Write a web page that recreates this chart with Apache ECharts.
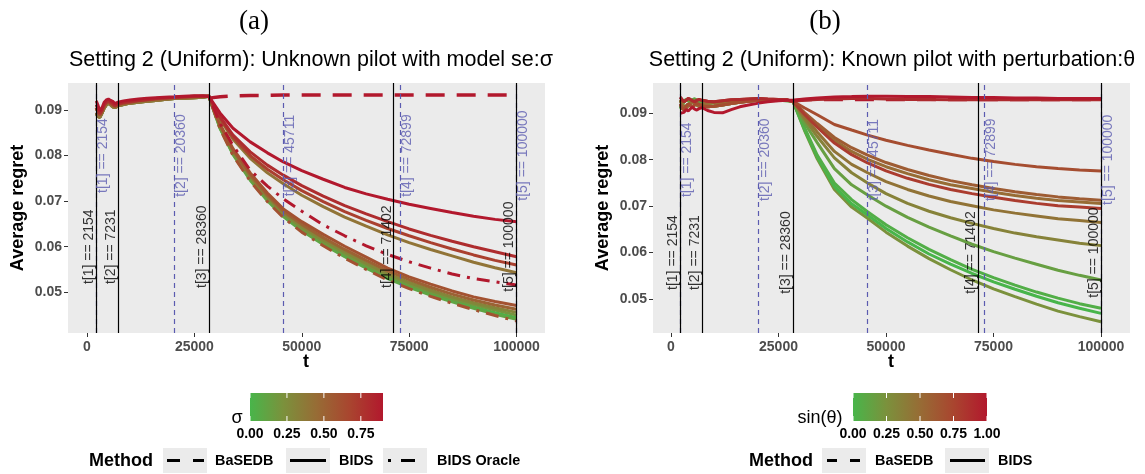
<!DOCTYPE html>
<html>
<head>
<meta charset="utf-8">
<script src="https://cdn.jsdelivr.net/npm/echarts@6/dist/echarts.min.js"></script>
<style>
html, body { margin: 0; padding: 0; background: #fff; }
#chart { width: 1145px; height: 474px; }
</style>
</head>
<body>
<div id="chart"></div>
<script>
// time grid: the noisy warm-up part and the decay part after t[3]
var tEarly = [2154, 2500, 3000, 3500, 4000, 4500, 5000, 5500, 6000, 6500, 7231, 8500, 10000, 12000, 14000, 16000, 18000, 20360, 22500, 25000, 27000, 28360];
var tLate = [28360, 31000, 34000, 38000, 42000, 45711, 50000, 55000, 60000, 65000, 70000, 75000, 80000, 85000, 90000, 95000, 100000];

// panel (a): warm-up traces
var earlyA1 = [0.0912, 0.0905, 0.0893, 0.0900, 0.0912, 0.0918, 0.0921, 0.0917, 0.0915, 0.0910, 0.0914, 0.0917, 0.0919, 0.0921, 0.0923, 0.0925, 0.0927, 0.0928, 0.0929, 0.0930, 0.0930, 0.0931];
var earlyA2 = [0.0893, 0.0886, 0.0884, 0.0893, 0.0904, 0.0911, 0.0915, 0.0911, 0.0907, 0.0905, 0.0909, 0.0912, 0.0915, 0.0917, 0.0919, 0.0921, 0.0923, 0.0925, 0.0926, 0.0927, 0.0928, 0.0930];
var earlyA3 = [0.0905, 0.0896, 0.0889, 0.0897, 0.0909, 0.0915, 0.0919, 0.0914, 0.0911, 0.0908, 0.0912, 0.0915, 0.0917, 0.0920, 0.0922, 0.0924, 0.0925, 0.0927, 0.0928, 0.0929, 0.0930, 0.0930];
var earlyA4 = [0.0920, 0.0912, 0.0898, 0.0905, 0.0917, 0.0922, 0.0924, 0.0921, 0.0919, 0.0914, 0.0917, 0.0920, 0.0922, 0.0924, 0.0926, 0.0927, 0.0928, 0.0929, 0.0930, 0.0931, 0.0931, 0.0932];

// panel (a): BIDS by sigma
var lateS90 = [0.0930, 0.0893, 0.0860, 0.0830, 0.0806, 0.0786, 0.0767, 0.0748, 0.0730, 0.0716, 0.0704, 0.0693, 0.0684, 0.0675, 0.0667, 0.0660, 0.0655];
var lateS80 = [0.0930, 0.0885, 0.0845, 0.0808, 0.0779, 0.0757, 0.0734, 0.0711, 0.0690, 0.0672, 0.0655, 0.0639, 0.0625, 0.0612, 0.0600, 0.0589, 0.0578];
var lateS70 = [0.0930, 0.0882, 0.0840, 0.0800, 0.0770, 0.0747, 0.0723, 0.0699, 0.0677, 0.0658, 0.0640, 0.0624, 0.0609, 0.0595, 0.0582, 0.0570, 0.0560];
var lateS40 = [0.0930, 0.0880, 0.0836, 0.0794, 0.0762, 0.0738, 0.0713, 0.0688, 0.0665, 0.0645, 0.0626, 0.0609, 0.0594, 0.0580, 0.0566, 0.0554, 0.0543];
var lateS60 = [0.0930, 0.0868, 0.0815, 0.0762, 0.0718, 0.0683, 0.0655, 0.0627, 0.0601, 0.0577, 0.0553, 0.0534, 0.0518, 0.0503, 0.0490, 0.0480, 0.0471];
var lateS50 = [0.0930, 0.0866, 0.0812, 0.0758, 0.0713, 0.0678, 0.0649, 0.0620, 0.0594, 0.0570, 0.0547, 0.0528, 0.0511, 0.0496, 0.0483, 0.0472, 0.0463];
var lateS30 = [0.0930, 0.0864, 0.0809, 0.0754, 0.0709, 0.0674, 0.0644, 0.0615, 0.0589, 0.0564, 0.0541, 0.0522, 0.0505, 0.0490, 0.0477, 0.0466, 0.0456];
var lateS20 = [0.0930, 0.0862, 0.0806, 0.0751, 0.0706, 0.0671, 0.0641, 0.0611, 0.0585, 0.0560, 0.0537, 0.0518, 0.0501, 0.0486, 0.0473, 0.0461, 0.0450];
var lateS10 = [0.0930, 0.0859, 0.0802, 0.0746, 0.0701, 0.0666, 0.0635, 0.0605, 0.0578, 0.0553, 0.0530, 0.0511, 0.0494, 0.0479, 0.0465, 0.0452, 0.0441];
var lateS00 = [0.0930, 0.0860, 0.0804, 0.0748, 0.0703, 0.0668, 0.0637, 0.0607, 0.0581, 0.0556, 0.0533, 0.0514, 0.0497, 0.0482, 0.0468, 0.0455, 0.0444];
// panel (a): BIDS Oracle and BaSEDB
var oracleS90 = [0.0930, 0.0870, 0.0822, 0.0768, 0.0733, 0.0705, 0.0678, 0.0648, 0.0624, 0.0602, 0.0583, 0.0567, 0.0553, 0.0540, 0.0530, 0.0523, 0.0516];
var oracleS60 = [0.0930, 0.0858, 0.0800, 0.0744, 0.0699, 0.0664, 0.0632, 0.0602, 0.0575, 0.0550, 0.0527, 0.0508, 0.0491, 0.0476, 0.0462, 0.0449, 0.0437];
var basedbA = [0.0926, 0.0929, 0.0931, 0.0932, 0.0932, 0.0933, 0.0933, 0.0933, 0.0933, 0.0933, 0.0933, 0.0933, 0.0933, 0.0933, 0.0933, 0.0933, 0.0933];

// panel (b): warm-up traces
var earlyB1 = [0.0935, 0.0930, 0.0925, 0.0928, 0.0932, 0.0930, 0.0927, 0.0925, 0.0928, 0.0930, 0.0928, 0.0926, 0.0925, 0.0927, 0.0929, 0.0930, 0.0931, 0.0932, 0.0931, 0.0930, 0.0929, 0.0928];
var earlyB2 = [0.0900, 0.0897, 0.0902, 0.0908, 0.0905, 0.0910, 0.0913, 0.0909, 0.0907, 0.0910, 0.0912, 0.0906, 0.0902, 0.0901, 0.0908, 0.0914, 0.0918, 0.0922, 0.0925, 0.0927, 0.0928, 0.0929];
var earlyB3 = [0.0920, 0.0912, 0.0908, 0.0915, 0.0920, 0.0917, 0.0914, 0.0918, 0.0921, 0.0919, 0.0916, 0.0914, 0.0915, 0.0918, 0.0921, 0.0924, 0.0926, 0.0928, 0.0928, 0.0929, 0.0928, 0.0927];
var earlyB4 = [0.0928, 0.0920, 0.0915, 0.0911, 0.0917, 0.0922, 0.0925, 0.0922, 0.0918, 0.0915, 0.0919, 0.0921, 0.0923, 0.0924, 0.0926, 0.0927, 0.0929, 0.0930, 0.0930, 0.0929, 0.0928, 0.0926];
var earlyB5 = [0.0910, 0.0918, 0.0924, 0.0930, 0.0927, 0.0925, 0.0929, 0.0931, 0.0928, 0.0926, 0.0924, 0.0922, 0.0923, 0.0925, 0.0927, 0.0929, 0.0930, 0.0931, 0.0929, 0.0928, 0.0927, 0.0926];

// panel (b): BIDS by sin(theta)
var lateT100 = [0.0928, 0.0931, 0.0933, 0.0935, 0.0936, 0.0937, 0.0937, 0.0936, 0.0936, 0.0935, 0.0934, 0.0934, 0.0933, 0.0933, 0.0932, 0.0932, 0.0932];
var lateT90 = [0.0926, 0.0928, 0.0930, 0.0931, 0.0932, 0.0932, 0.0931, 0.0930, 0.0930, 0.0929, 0.0929, 0.0929, 0.0929, 0.0929, 0.0929, 0.0929, 0.0929];
var lateT80 = [0.0926, 0.0898, 0.0870, 0.0836, 0.0811, 0.0793, 0.0776, 0.0760, 0.0747, 0.0736, 0.0727, 0.0719, 0.0712, 0.0706, 0.0701, 0.0698, 0.0695];
var lateT70 = [0.0926, 0.0912, 0.0897, 0.0876, 0.0864, 0.0853, 0.0842, 0.0831, 0.0821, 0.0812, 0.0803, 0.0796, 0.0790, 0.0785, 0.0781, 0.0778, 0.0776];
var lateT60 = [0.0926, 0.0902, 0.0878, 0.0848, 0.0826, 0.0810, 0.0794, 0.0779, 0.0766, 0.0755, 0.0746, 0.0738, 0.0731, 0.0725, 0.0720, 0.0716, 0.0713];
var lateT50 = [0.0926, 0.0900, 0.0874, 0.0842, 0.0818, 0.0801, 0.0785, 0.0770, 0.0757, 0.0746, 0.0738, 0.0730, 0.0723, 0.0717, 0.0712, 0.0709, 0.0706];
var lateT45 = [0.0926, 0.0893, 0.0860, 0.0818, 0.0790, 0.0772, 0.0753, 0.0736, 0.0722, 0.0710, 0.0701, 0.0692, 0.0685, 0.0679, 0.0673, 0.0669, 0.0665];
var lateT35 = [0.0926, 0.0888, 0.0850, 0.0804, 0.0772, 0.0750, 0.0727, 0.0706, 0.0689, 0.0675, 0.0663, 0.0652, 0.0642, 0.0634, 0.0627, 0.0620, 0.0615];
var lateT25 = [0.0926, 0.0864, 0.0802, 0.0736, 0.0698, 0.0674, 0.0644, 0.0614, 0.0587, 0.0563, 0.0541, 0.0522, 0.0505, 0.0489, 0.0474, 0.0462, 0.0451];
var lateT15 = [0.0926, 0.0880, 0.0837, 0.0781, 0.0746, 0.0724, 0.0700, 0.0676, 0.0655, 0.0636, 0.0618, 0.0602, 0.0588, 0.0575, 0.0562, 0.0551, 0.0541];
var lateT05 = [0.0926, 0.0870, 0.0810, 0.0750, 0.0714, 0.0688, 0.0660, 0.0632, 0.0607, 0.0585, 0.0564, 0.0546, 0.0530, 0.0515, 0.0502, 0.0490, 0.0480];
var lateT00 = [0.0926, 0.0866, 0.0806, 0.0742, 0.0705, 0.0681, 0.0652, 0.0623, 0.0597, 0.0575, 0.0555, 0.0537, 0.0521, 0.0506, 0.0492, 0.0480, 0.0469];
var basedbB = [0.0927, 0.0929, 0.0930, 0.0930, 0.0930, 0.0930, 0.0930, 0.0930, 0.0930, 0.0930, 0.0930, 0.0930, 0.0930, 0.0930, 0.0930, 0.0930, 0.0930];

// reference lines (same in both panels)
var cutsBlack = [2154, 7231, 28360, 71402, 100000];
var cutsBlackText = ['t[1] == 2154', 't[2] == 7231', 't[3] == 28360', 't[4] == 71402', 't[5] == 100000'];
var cutsBlue = [2154, 20360, 45711, 72899, 100000];
var cutsBlueText = ['t[1] == 2154', 't[2] == 20360', 't[3] == 45711', 't[4] == 72899', 't[5] == 100000'];
var blackTextY = 0.06;
var blueTextY = 0.08;

// ticks
var xTicks = [0, 25000, 50000, 75000, 100000];
var yTicks = [0.05, 0.06, 0.07, 0.08, 0.09];
var sigmaTicks = [0, 0.25, 0.5, 0.75];
var sinTicks = [0, 0.25, 0.5, 0.75, 1];

var gradStops = ['#48b54a', '#7b913c', '#976c35', '#a9452f', '#b2182d'];

function hexRgb(h) {
    return [parseInt(h.slice(1, 3), 16), parseInt(h.slice(3, 5), 16), parseInt(h.slice(5, 7), 16)];
}
function gradColor(v) {
    v = Math.max(0, Math.min(1, v));
    var p = v * (gradStops.length - 1);
    var i = Math.min(gradStops.length - 2, Math.floor(p));
    var f = p - i;
    var a = hexRgb(gradStops[i]), b = hexRgb(gradStops[i + 1]);
    return 'rgb(' + [0, 1, 2].map(function (k) { return Math.round(a[k] + (b[k] - a[k]) * f); }).join(',') + ')';
}

function joinData(early, late) {
    var d = [];
    if (early) {
        for (var i = 0; i < tEarly.length - 1; i++) d.push([tEarly[i], early[i]]);
    }
    for (var j = 0; j < tLate.length; j++) d.push([tLate[j], late[j]]);
    return d;
}

function curve(gi, level, maxLevel, early, late, method) {
    var ls = { color: gradColor(level / maxLevel), width: 3, type: 'solid', cap: 'butt' };
    if (method === 'oracle') ls.type = [3, 7, 13, 7];
    if (method === 'basedb') { ls.type = [19, 12]; ls.width = 3.5; }
    return {
        type: 'line', xAxisIndex: gi, yAxisIndex: gi,
        data: joinData(method === 'bids' ? early : null, late),
        showSymbol: false, symbol: 'none', silent: true, animation: false,
        lineStyle: ls, z: 2
    };
}

function cutSeries(gi, cuts, texts, yPos, color, lineType, vAlign) {
    return {
        type: 'scatter', xAxisIndex: gi, yAxisIndex: gi, symbol: 'circle', symbolSize: 1, silent: true, animation: false, z: 5,
        data: cuts.map(function (t, i) { return [t, yPos, texts[i]]; }),
        itemStyle: { color: 'rgba(0,0,0,0)' },
        label: {
            show: true, position: 'inside', rotate: 90, align: 'center', verticalAlign: vAlign,
            formatter: function (p) { return p.data[2]; },
            color: color, fontSize: 14, fontFamily: 'Liberation Sans'
        },
        labelLayout: { hideOverlap: false },
        markLine: {
            silent: true, animation: false, symbol: ['none', 'none'], label: { show: false },
            lineStyle: { color: color, width: 1.2, type: lineType },
            data: cuts.map(function (t) { return { xAxis: t }; })
        }
    };
}

var series = [];
// panel (a), sigma range 0..0.9
[[0.0, earlyA3, lateS00, 'bids'], [0.1, earlyA2, lateS10, 'bids'], [0.2, earlyA2, lateS20, 'bids'],
 [0.3, earlyA1, lateS30, 'bids'], [0.5, earlyA2, lateS50, 'bids'], [0.6, earlyA3, lateS60, 'bids'],
 [0.6, null, oracleS60, 'oracle'], [0.4, earlyA2, lateS40, 'bids'], [0.7, earlyA3, lateS70, 'bids'],
 [0.8, earlyA1, lateS80, 'bids'], [0.9, earlyA4, lateS90, 'bids'], [0.9, null, oracleS90, 'oracle'],
 [0.9, null, basedbA, 'basedb']
].forEach(function (s) { series.push(curve(0, s[0], 0.9, s[1], s[2], s[3])); });
// panel (b), sin(theta) range 0..1
[[0.25, earlyB4, lateT25, 'bids'], [0.0, earlyB5, lateT00, 'bids'], [0.05, earlyB3, lateT05, 'bids'],
 [0.15, earlyB5, lateT15, 'bids'], [0.35, earlyB4, lateT35, 'bids'], [0.45, earlyB3, lateT45, 'bids'],
 [0.5, earlyB4, lateT50, 'bids'], [0.6, earlyB3, lateT60, 'bids'], [0.8, earlyB1, lateT80, 'bids'],
 [0.7, earlyB3, lateT70, 'bids'], [1.0, null, basedbB, 'basedb'], [0.9, earlyB1, lateT90, 'bids'],
 [1.0, earlyB2, lateT100, 'bids']
].forEach(function (s) { series.push(curve(1, s[0], 1.0, s[1], s[2], s[3])); });

[0, 1].forEach(function (gi) {
    series.push(cutSeries(gi, cutsBlue, cutsBlueText, blueTextY, '#5b5bb0', [5, 4], 'top'));
    series.push(cutSeries(gi, cutsBlack, cutsBlackText, blackTextY, '#000000', 'solid', 'bottom'));
});

function xAxisCfg(gi, min, max) {
    return {
        type: 'value', gridIndex: gi, min: min, max: max,
        axisLine: { show: false, onZero: false },
        axisTick: { show: true, customValues: xTicks, length: 4, lineStyle: { color: '#333', width: 1 } },
        axisLabel: {
            customValues: xTicks, color: '#4d4d4d', fontWeight: 'bold', fontSize: 14, fontFamily: 'Liberation Sans', margin: 7,
            formatter: function (v) { return String(v); }
        },
        splitLine: { show: false }
    };
}
function yAxisCfg(gi, min, max) {
    return {
        type: 'value', gridIndex: gi, min: min, max: max,
        axisLine: { show: false, onZero: false },
        axisTick: { show: true, customValues: yTicks, length: 4, lineStyle: { color: '#333', width: 1 } },
        axisLabel: {
            customValues: yTicks, color: '#4d4d4d', fontWeight: 'bold', fontSize: 14, fontFamily: 'Liberation Sans', margin: 6,
            formatter: function (v) { return v.toFixed(2); }
        },
        splitLine: { show: false }
    };
}

var SANS = 'Liberation Sans';
function txt(x, y, s, size, opt) {
    opt = opt || {};
    return {
        type: 'text', x: x, y: y, rotation: opt.rot || 0, silent: true,
        style: {
            text: s, fill: opt.fill || '#000', fontSize: size, fontFamily: opt.font || SANS,
            fontWeight: opt.bold ? 'bold' : 'normal', align: opt.align || 'center', verticalAlign: 'middle'
        }
    };
}
function hline(x1, x2, y, dash, w, color) {
    return { type: 'line', silent: true, shape: { x1: x1, y1: y, x2: x2, y2: y },
        style: { stroke: color || '#000', lineWidth: w || 3, lineDash: dash || null } };
}

function colorbar(x, y, w, h, ticks, maxV, title, titleX) {
    var els = [{
        type: 'rect', silent: true, shape: { x: x, y: y, width: w, height: h },
        style: { fill: new echarts.graphic.LinearGradient(0, 0, 1, 0, gradStops.map(function (c, i) {
            return { offset: i / (gradStops.length - 1), color: c };
        })) }
    }];
    ticks.forEach(function (v) {
        var px = x + v / maxV * w;
        els.push({ type: 'line', silent: true, shape: { x1: px, y1: y, x2: px, y2: y + 5 }, style: { stroke: '#fff', lineWidth: 1 } });
        els.push({ type: 'line', silent: true, shape: { x1: px, y1: y + h - 5, x2: px, y2: y + h }, style: { stroke: '#fff', lineWidth: 1 } });
        els.push(txt(px, y + h + 13, v.toFixed(2), 14, { bold: true }));
    });
    els.push(txt(titleX, y + h - 3, title, 18));
    return els;
}
function keyBox(x, y) {
    return { type: 'rect', silent: true, shape: { x: x, y: y, width: 44, height: 25 }, style: { fill: '#ebebeb' } };
}

var graphics = [
    txt(254, 22, '(a)', 27, { font: 'Liberation Serif' }),
    txt(825, 22, '(b)', 27, { font: 'Liberation Serif' }),
    txt(311, 60, 'Setting 2 (Uniform): Unknown pilot with model se:σ', 21.5),
    txt(892, 60, 'Setting 2 (Uniform): Known pilot with perturbation:θ', 21.5),
    txt(18, 208, 'Average regret', 18, { bold: true, rot: Math.PI / 2 }),
    txt(603, 208, 'Average regret', 18, { bold: true, rot: Math.PI / 2 }),
    txt(306, 362, 't', 18, { bold: true }),
    txt(891, 362, 't', 18, { bold: true }),
    // legend (a)
    txt(153, 461, 'Method', 18, { bold: true, align: 'right' }),
    keyBox(163, 448), keyBox(286, 448), keyBox(383, 448),
    hline(167, 204, 460.5, [13, 13]),
    hline(290, 326, 460.5),
    hline(388, 424, 460.5, [3, 10, 14, 10]),
    txt(215, 461, 'BaSEDB', 14.4, { bold: true, align: 'left' }),
    txt(339, 461, 'BIDS', 14.4, { bold: true, align: 'left' }),
    txt(437, 461, 'BIDS Oracle', 14.4, { bold: true, align: 'left' }),
    // legend (b)
    txt(813, 461, 'Method', 18, { bold: true, align: 'right' }),
    keyBox(822, 448), keyBox(945, 448),
    hline(827, 862, 460.5, [10, 13]),
    hline(950, 985, 460.5),
    txt(875, 461, 'BaSEDB', 14.4, { bold: true, align: 'left' }),
    txt(998, 461, 'BIDS', 14.4, { bold: true, align: 'left' })
].concat(colorbar(250, 393, 133, 28, sigmaTicks, 0.9, 'σ', 237))
 .concat(colorbar(853, 393, 134, 28, sinTicks, 1.0, 'sin(θ)', 820));

var chart = echarts.init(document.getElementById('chart'), null, { renderer: 'canvas' });
chart.setOption({
    animation: false,
    backgroundColor: '#ffffff',
    grid: [
        { left: 68, top: 83, width: 477, height: 250, show: true, backgroundColor: '#ebebeb', borderWidth: 0 },
        { left: 653, top: 83, width: 477, height: 250, show: true, backgroundColor: '#ebebeb', borderWidth: 0 }
    ],
    xAxis: [xAxisCfg(0, -4420, 106630), xAxisCfg(1, -4190, 106740)],
    yAxis: [yAxisCfg(0, 0.04107, 0.09592), yAxisCfg(1, 0.04268, 0.09653)],
    series: series,
    graphic: graphics
});
</script>
</body>
</html>
